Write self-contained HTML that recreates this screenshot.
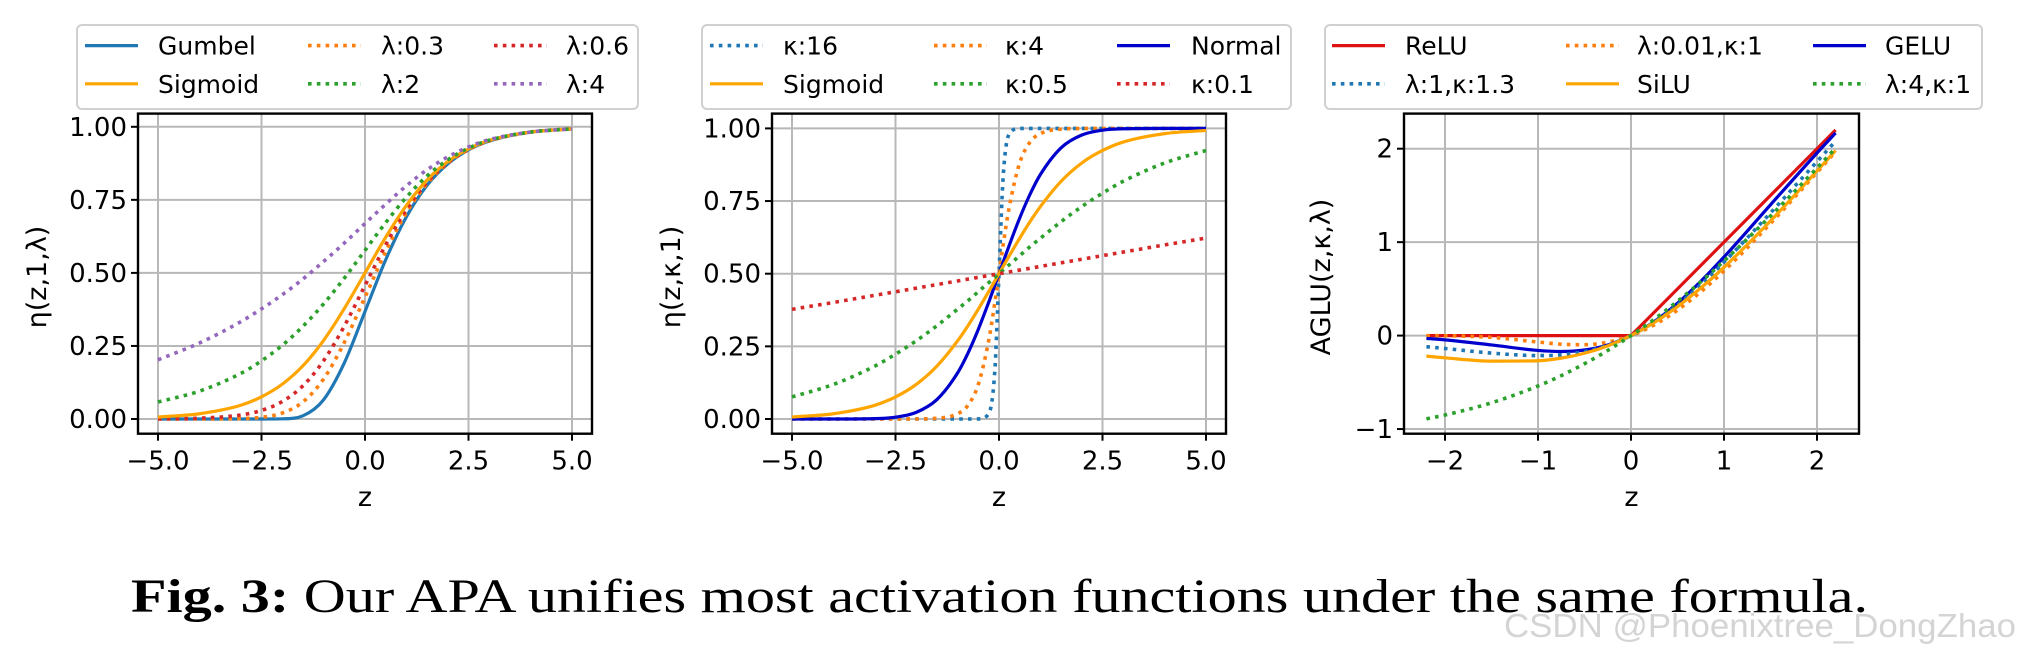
<!DOCTYPE html>
<html><head><meta charset="utf-8"><style>
html,body{margin:0;padding:0;background:#fff;}
svg{display:block;}
text{font-family:"DejaVu Sans","Liberation Sans",sans-serif;}
</style></head><body>
<svg id="fig" width="2018" height="662" viewBox="0 0 2018 662" xmlns="http://www.w3.org/2000/svg">
<rect width="2018" height="662" fill="#fff"/>
<g id="layer"></g>
<text x="131" y="612" font-size="48" textLength="1737" lengthAdjust="spacingAndGlyphs" style="font-family:'Liberation Serif',serif" fill="#000"><tspan font-weight="bold">Fig. 3:</tspan> Our APA unifies most activation functions under the same formula.</text>
<text x="1504" y="637" font-size="33" textLength="512" lengthAdjust="spacingAndGlyphs" style="font-family:'Liberation Sans',sans-serif" fill="#d4d4d4">CSDN @Phoenixtree_DongZhao</text>
</svg>
<script>
// ---------- Panel 1 data ----------
const z1 = [-5,-4,-3,-2.5,-2,-1.5,-1,-0.5,0,0.5,1,1.5,2,2.5,3,4,5];
const p1Gumbel = [0,0,0,0,0.0006,0.011,0.066,0.192,0.368,0.545,0.692,0.800,0.873,0.921,0.951,0.982,0.993];
const p1Sigmoid = [0.0067,0.018,0.047,0.076,0.119,0.182,0.269,0.378,0.5,0.622,0.731,0.818,0.881,0.924,0.953,0.982,0.993];
const p1L03 = [0,0.0001,0.0015,0.0059,0.0204,0.0584,0.137,0.262,0.417,0.573,0.706,0.806,0.876,0.922,0.952,0.982,0.993];
const p1L06 = [0.0006,0.0028,0.0138,0.0293,0.0596,0.1136,0.1995,0.318,0.457,0.596,0.717,0.811,0.878,0.923,0.952,0.982,0.993];
const p1L2 = [0.058,0.0953,0.156,0.199,0.252,0.317,0.394,0.482,0.577,0.672,0.759,0.832,0.887,0.927,0.954,0.982,0.993];
const p1L4 = [0.2025,0.260,0.333,0.377,0.425,0.479,0.539,0.602,0.669,0.735,0.798,0.853,0.897,0.931,0.956,0.982,0.993];
// ---------- Panel 2 data ----------
const z2 = [-5,-4,-3,-2.5,-2,-1.5,-1,-0.75,-0.5,-0.25,-0.1,0,0.1,0.25,0.5,0.75,1,1.5,2,2.5,3,4,5];
const p2K16 = [0,0,0,0,0,0,0,0,0.0003,0.018,0.168,0.5,0.832,0.982,0.9997,1,1,1,1,1,1,1,1];
const p2K4 = [0,0,0,0,0.0003,0.0025,0.018,0.047,0.119,0.269,0.401,0.5,0.599,0.731,0.881,0.953,0.982,0.9975,0.9997,1,1,1,1];
const p2Normal = [0,0,0.0013,0.0062,0.0228,0.0668,0.1587,0.2266,0.3085,0.4013,0.4602,0.5,0.5398,0.5987,0.6915,0.7734,0.8413,0.9332,0.9772,0.9938,0.9987,1,1];
const p2Sigmoid = [0.0067,0.018,0.047,0.076,0.119,0.182,0.269,0.321,0.378,0.438,0.475,0.5,0.525,0.562,0.622,0.679,0.731,0.818,0.881,0.924,0.953,0.982,0.993];
const p2K05 = [0.076,0.119,0.182,0.223,0.269,0.321,0.378,0.407,0.438,0.469,0.4875,0.5,0.5125,0.531,0.562,0.593,0.622,0.679,0.731,0.777,0.818,0.881,0.924];
const p2K01 = [0.3775,0.401,0.4256,0.4378,0.4502,0.4626,0.475,0.4813,0.4875,0.4938,0.4975,0.5,0.5025,0.5062,0.5125,0.5187,0.525,0.5374,0.5498,0.5622,0.5744,0.599,0.6225];
// ---------- Panel 3 data ----------
const z3 = [-2.2,-2,-1.5,-1,-0.75,-0.5,-0.25,0,0.25,0.5,0.75,1,1.5,2,2.2];
const p3ReLU = [0,0,0,0,0,0,0,0,0.25,0.5,0.75,1,1.5,2,2.2];
const p3L001 = [-0.0004,-0.0016,-0.0188,-0.0685,-0.0923,-0.0975,-0.0698,0,0.115,0.273,0.468,0.692,1.2,1.746,1.969];
const p3GELU = [-0.0306,-0.0455,-0.1002,-0.1587,-0.170,-0.154,-0.1003,0,0.1497,0.346,0.580,0.841,1.400,1.954,2.169];
const p3L1K13 = [-0.119,-0.138,-0.187,-0.214,-0.206,-0.171,-0.105,0,0.145,0.328,0.545,0.786,1.313,1.862,2.081];
const p3SiLU = [-0.2196,-0.238,-0.273,-0.269,-0.241,-0.189,-0.1095,0,0.1405,0.311,0.509,0.731,1.227,1.762,1.980];
const p3L4 = [-0.891,-0.85,-0.719,-0.539,-0.428,-0.301,-0.159,0,0.1755,0.3675,0.575,0.798,1.28,1.794,2.007];
// ticks
const xt12 = [-5,-2.5,0,2.5,5];
const xt12Labels = ["\u22125.0","\u22122.5","0.0","2.5","5.0"];
const yt12 = [0,0.25,0.5,0.75,1];
const yt12Labels = ["0.00","0.25","0.50","0.75","1.00"];
const xt3 = [-2,-1,0,1,2];
const xt3Labels = ["\u22122","\u22121","0","1","2"];
const yt3 = [-1,0,1,2];
const yt3Labels = ["\u22121","0","1","2"];

const NS="http://www.w3.org/2000/svg";
const layer=document.getElementById('layer');
function mk(tag,attrs,parent){const e=document.createElementNS(NS,tag);for(const k in attrs)e.setAttribute(k,attrs[k]);(parent||layer).appendChild(e);return e;}
const C={blue:"#1f77b4",orange:"#ff7f0e",green:"#2ca02c",red:"#d62728",purple:"#9467bd",sig:"#ffa500",norm:"#0000cd",relu:"#dd1111"};

function linPath(xs,ys,sx,sy){
  return xs.map((x,i)=>(i?"L":"M")+sx(x).toFixed(2)+","+sy(ys[i]).toFixed(2)).join(" ");
}
function monoPath(xs,ys,sx,sy){
  const n=xs.length,px=xs.map(sx),py=ys.map(sy);
  const d=[],m=new Array(n);
  for(let i=0;i<n-1;i++)d.push((py[i+1]-py[i])/(px[i+1]-px[i]));
  m[0]=d[0];m[n-1]=d[n-2];
  for(let i=1;i<n-1;i++){m[i]=(d[i-1]*d[i]<=0)?0:(d[i-1]+d[i])/2;}
  for(let i=0;i<n-1;i++){if(d[i]===0){m[i]=0;m[i+1]=0;continue;}const a=m[i]/d[i],b=m[i+1]/d[i],s=a*a+b*b;if(s>9){const t=3/Math.sqrt(s);m[i]=t*a*d[i];m[i+1]=t*b*d[i];}}
  let p="M"+px[0].toFixed(2)+","+py[0].toFixed(2);
  for(let i=0;i<n-1;i++){const h=(px[i+1]-px[i])/3;p+=" C"+(px[i]+h).toFixed(2)+","+(py[i]+m[i]*h).toFixed(2)+" "+(px[i+1]-h).toFixed(2)+","+(py[i+1]-m[i+1]*h).toFixed(2)+" "+px[i+1].toFixed(2)+","+py[i+1].toFixed(2);}
  return p;
}

function panel(cfg){
  const g=mk('g',{});
  
  
  const sx=v=>cfg.x0+(v-cfg.dx0)*(cfg.x1-cfg.x0)/(cfg.dx1-cfg.dx0);
  const sy=v=>cfg.y0+(v-cfg.dy0)*(cfg.y1-cfg.y0)/(cfg.dy1-cfg.dy0);
  const B=cfg.box;
  cfg.xt.forEach((t,i)=>{
    const l=mk('line',{x1:sx(t),x2:sx(t),y1:B.t,y2:B.b,stroke:"#b8b8b8","stroke-width":2},g);
    
    
    mk('line',{x1:sx(t),x2:sx(t),y1:B.b,y2:B.b+7,stroke:"#000","stroke-width":2},g);
    const tx=mk('text',{x:sx(t),y:B.b+36,"font-size":26,"text-anchor":"middle",fill:"#000"},g);
    tx.textContent=cfg.xl[i];
    
    
  });
  cfg.yt.forEach((t,i)=>{
    const l=mk('line',{x1:B.l,x2:B.r,y1:sy(t),y2:sy(t),stroke:"#b8b8b8","stroke-width":2},g);
    
    
    mk('line',{x1:B.l-7,x2:B.l,y1:sy(t),y2:sy(t),stroke:"#000","stroke-width":2},g);
    const tx=mk('text',{x:B.l-11,y:sy(t)+9,"font-size":26,"text-anchor":"end",fill:"#000"},g);
    tx.textContent=cfg.yl[i];
    
    
  });
  cfg.series.forEach(s=>{
    const dpath=s.lin?linPath(cfg.z,s.v,sx,sy):monoPath(cfg.z,s.v,sx,sy);
    const p=mk('path',{d:dpath,fill:"none",stroke:s.c,"stroke-width":s.dot?3.6:3.2,"stroke-dasharray":s.dot?"3.6 5.2":"none","stroke-linejoin":"round"},g);
    
    
  });
  const fr=mk('rect',{x:B.l,y:B.t,width:B.r-B.l,height:B.b-B.t,fill:"none",stroke:"#000","stroke-width":2.4},g);
  
  
  const xl=mk('text',{x:(B.l+B.r)/2,y:506,"font-size":27,"text-anchor":"middle",fill:"#000"},g);
  xl.textContent="z";
  
  
  const yl=mk('text',{x:0,y:0,"font-size":27,"text-anchor":"middle",fill:"#000",transform:"translate("+(cfg.ylx+9)+",277) rotate(-90)"},g);
  yl.textContent=cfg.ytitle;
  
  
  const L=cfg.leg;
  const lg=mk('g',{},g);
  
  
  mk('rect',{x:L.l,y:25,width:L.r-L.l,height:84,rx:5,fill:"#fff",stroke:"#d0d0d0","stroke-width":2},lg);
  cfg.series.forEach((s,i)=>{
    const col=i%3,row=Math.floor(i/3);
    const y=row?83.8:45.6;
    const ent=mk('g',{},lg);
    
    
    mk('line',{x1:L.h[col],x2:L.h[col]+53,y1:y,y2:y,stroke:s.c,"stroke-width":s.dot?3.6:3.2,"stroke-dasharray":s.dot?"3.6 5.2":"none"},ent);
    const t=mk('text',{x:L.t[col],y:y+9,"font-size":25,fill:"#000"},ent);
    t.textContent=s.label;
  });
}

panel({name:"panel-eta-lambda",x0:158,x1:572,dx0:-5,dx1:5,y0:419,y1:126.8,dy0:0,dy1:1,
  box:{l:138,r:592,t:113.6,b:433.7},xt:xt12,xl:xt12Labels,yt:yt12,yl:yt12Labels,z:z1,ylx:37,ytitle:"\u03b7(z,1,\u03bb)",
  leg:{l:77,r:638,h:[85,308,494],t:[158,381,566]},
  series:[{id:"gumbel",label:"Gumbel",v:p1Gumbel,c:C.blue},{id:"l03",label:"\u03bb:0.3",v:p1L03,c:C.orange,dot:1},{id:"l06",label:"\u03bb:0.6",v:p1L06,c:C.red,dot:1},
    {id:"sigmoid",label:"Sigmoid",v:p1Sigmoid,c:C.sig},{id:"l2",label:"\u03bb:2",v:p1L2,c:C.green,dot:1},{id:"l4",label:"\u03bb:4",v:p1L4,c:C.purple,dot:1}]});

panel({name:"panel-eta-kappa",x0:792,x1:1206,dx0:-5,dx1:5,y0:419,y1:128.4,dy0:0,dy1:1,
  box:{l:772,r:1226,t:113.6,b:433.7},xt:xt12,xl:xt12Labels,yt:yt12,yl:yt12Labels,z:z2,ylx:671,ytitle:"\u03b7(z,\u03ba,1)",
  leg:{l:702,r:1291,h:[710,934,1117],t:[783,1005,1191]},
  series:[{id:"k16",label:"\u03ba:16",v:p2K16,c:C.blue,dot:1},{id:"k4",label:"\u03ba:4",v:p2K4,c:C.orange,dot:1},{id:"normal",label:"Normal",v:p2Normal,c:C.norm},
    {id:"sigmoid",label:"Sigmoid",v:p2Sigmoid,c:C.sig},{id:"k05",label:"\u03ba:0.5",v:p2K05,c:C.green,dot:1},{id:"k01",label:"\u03ba:0.1",v:p2K01,c:C.red,dot:1}]});

panel({name:"panel-aglu",x0:1445,x1:1817,dx0:-2,dx1:2,y0:335.6,y1:148.7,dy0:0,dy1:2,
  box:{l:1404,r:1859,t:113.6,b:433.7},xt:xt3,xl:xt3Labels,yt:yt3,yl:yt3Labels,z:z3,ylx:1321,ytitle:"AGLU(z,\u03ba,\u03bb)",
  leg:{l:1325,r:1982,h:[1332,1566,1813],t:[1405,1637,1885]},
  series:[{id:"relu",label:"ReLU",v:p3ReLU,c:C.relu,lin:1},{id:"l001k1",label:"\u03bb:0.01,\u03ba:1",v:p3L001,c:C.orange,dot:1},{id:"gelu",label:"GELU",v:p3GELU,c:C.norm},
    {id:"l1k13",label:"\u03bb:1,\u03ba:1.3",v:p3L1K13,c:C.blue,dot:1},{id:"silu",label:"SiLU",v:p3SiLU,c:C.sig},{id:"l4k1",label:"\u03bb:4,\u03ba:1",v:p3L4,c:C.green,dot:1}]});
</script>
</body></html>
